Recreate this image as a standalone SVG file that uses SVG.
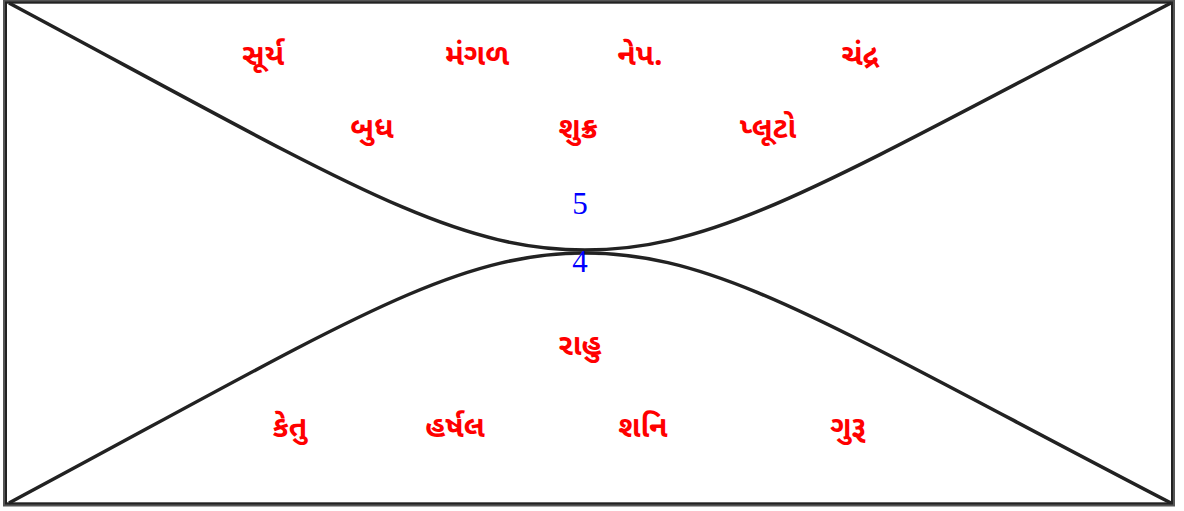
<svg xmlns="http://www.w3.org/2000/svg" width="1184" height="511" viewBox="0 0 1184 511">
<style>
.g{font-family:"Noto Sans Gujarati","Noto Sans","DejaVu Sans",sans-serif;font-size:30px;font-weight:bold;fill:#ff0000;text-anchor:middle}
.n{font-family:"Liberation Serif",serif;font-size:31px;fill:#0000ff;text-anchor:middle}
.c{fill:none;stroke:#222;stroke-width:3.5}
</style>
<rect width="1184" height="511" fill="#fff"/>
<rect x="5" y="1.5" width="1168" height="503" fill="none" stroke="#555" stroke-width="4"/>
<rect x="6" y="2.5" width="1166" height="501" fill="none" stroke="#222" stroke-width="2"/>
<g id="connectors">
<path class="c" d="M9,3 C340,180 450,250 585,250 C720,250 830,180 1171,3"/>
<path class="c" d="M9,503 C340,326 450,253 585,253 C720,253 830,326 1171,503"/>
</g>
<g id="surya"><text class="g" x="263" y="65">સૂર્ય</text></g>
<g id="mangal"><text class="g" x="477" y="65">મંગળ</text></g>
<g id="nep"><text class="g" x="640" y="65">નેપ.</text></g>
<g id="chandra"><text class="g" x="860" y="65">ચંદ્ર</text></g>
<g id="budh"><text class="g" x="372" y="138">બુધ</text></g>
<g id="shukra"><text class="g" x="578" y="138">શુક્ર</text></g>
<g id="pluto"><text class="g" x="768" y="138">પ્લૂટો</text></g>
<g id="h5"><text class="n" x="580" y="214">5</text></g>
<g id="h4"><text class="n" x="580" y="272">4</text></g>
<g id="rahu"><text class="g" x="580" y="355">રાહુ</text></g>
<g id="ketu"><text class="g" x="290" y="437">કેતુ</text></g>
<g id="harshal"><text class="g" x="455" y="437">હર્ષલ</text></g>
<g id="shani"><text class="g" x="643" y="437">શનિ</text></g>
<g id="guru"><text class="g" x="848" y="437">ગુરૂ</text></g>
</svg>
